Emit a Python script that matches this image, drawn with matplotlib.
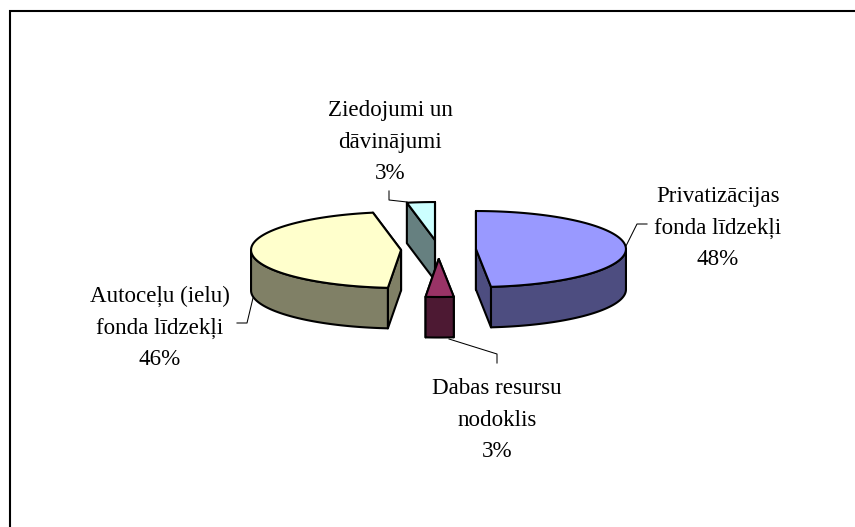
import numpy as np
import matplotlib
matplotlib.use("Agg")
import matplotlib.pyplot as plt

categories = ["Privatizācijas\nfonda līdzekļi", "Dabas resursu\nnodoklis",
              "Autoceļu (ielu)\nfonda līdzekļi", "Ziedojumi un\ndāvinājumi"]
values = [48.4, 3.0, 45.6, 3.0]
top_colors = ["#9999FF", "#993366", "#FFFFCC", "#CCFFFF"]
side_colors = ["#4D4D80", "#4D1933", "#808066", "#668080"]
label_pos = [(718, 265), (497, 457), (160, 365), (390, 179)]
leaders = [
    [(625, 248), (637, 224), (647, 224)],
    [(449, 339), (497, 354), (497, 363)],
    [(253, 298), (247, 323), (237, 323)],
    [(389, 191), (389, 200), (407, 202)],
]

CX, CY, A, B, DEPTH, EXPLODE = 438.5, 249.5, 150.0, 38.0, 40.5, 37.5
EDGE = 1.5

fig = plt.figure(figsize=(8.55, 5.27), dpi=100, facecolor="white")
ax = fig.add_axes([0, 0, 1, 1])
ax.set_xlim(0, 855)
ax.set_ylim(527, 0)
ax.axis("off")

# chart frame: only left and top are inside the picture
ax.plot([10, 10, 855], [527, 10.5, 10.5], color="black", lw=1.5, solid_capstyle="butt",
        solid_joinstyle="miter", zorder=1)


def ell(t, cx, cy, dz=0.0):
    t = np.radians(t)
    return cx + A * np.sin(t), cy - B * np.cos(t) + dz


def poly(xs, ys, color, z):
    ax.fill(xs, ys, facecolor=color, edgecolor="black", lw=EDGE, joinstyle="round", zorder=z)


fractions = np.array(values, dtype=float) / sum(values)
edges = np.concatenate([[0], np.cumsum(fractions) * 360])
order = [3, 2, 0, 1]  # painter's order, back to front

for rank, i in enumerate(order):
    t0, t1 = edges[i], edges[i + 1]
    tm = np.radians((t0 + t1) / 2)
    cx = CX + EXPLODE * np.sin(tm)
    cy = CY - EXPLODE * B / A * np.cos(tm)
    z = 2 + rank
    # radial walls, the lower one last
    rad = sorted([t0, t1], key=lambda t: -np.cos(np.radians(t)))
    for t in rad:
        x, y = ell(t, cx, cy)
        poly([cx, x, x, cx], [cy, y, y + DEPTH, cy + DEPTH], side_colors[i], z)
    # curved wall, only on the front half
    a0, a1 = max(t0, 90), min(t1, 270)
    if a1 > a0:
        ts = np.linspace(a0, a1, 80)
        x, y = ell(ts, cx, cy)
        poly(np.r_[x, x[::-1]], np.r_[y, y[::-1] + DEPTH], side_colors[i], z)
    # top face
    ts = np.linspace(t0, t1, 160)
    x, y = ell(ts, cx, cy)
    poly(np.r_[cx, x], np.r_[cy, y], top_colors[i], z)

for pts in leaders:
    xs, ys = zip(*pts)
    ax.plot(xs, ys, color="black", lw=0.75, zorder=1.5)

for name, v, (x, y) in zip(categories, values, label_pos):
    ax.text(x, y, f"{name}\n{v:.0f}%", family="Liberation Serif", fontsize=16.6, color="black",
            ha="center", va="baseline", multialignment="center", linespacing=1.65, zorder=10)

fig.savefig("out.png", dpi=100, facecolor="white")
